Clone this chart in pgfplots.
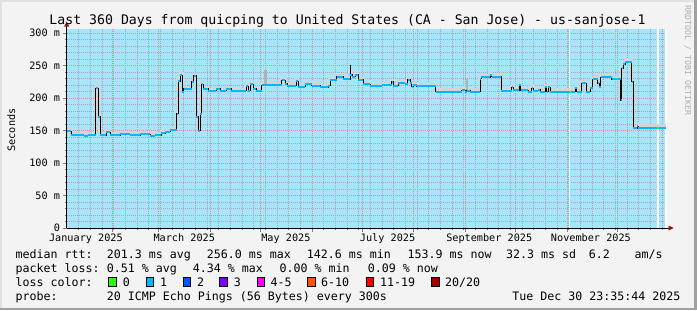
\documentclass[border=0pt]{standalone}
\usepackage{pgfplots}
\usepackage{pgfplotstable}
\pgfplotsset{compat=1.18}
\usepackage{fontspec}
\setmainfont{DejaVu Sans Mono}
\definecolor{bgc}{RGB}{243,243,243}
\definecolor{shadeA}{RGB}{225,225,225}
\definecolor{shadeB}{RGB}{160,160,160}
\definecolor{fillblue}{RGB}{168,228,250}
\definecolor{lossone}{RGB}{0,184,255}
\definecolor{mgrid}{RGB}{228,140,150}
\definecolor{ngrid}{RGB}{165,170,185}
\definecolor{arrowred}{RGB}{140,20,20}
\definecolor{wm}{RGB}{175,175,175}
\definecolor{smoke}{RGB}{212,212,212}
\definecolor{c0}{HTML}{26FF00}
\definecolor{c1}{HTML}{00B8FF}
\definecolor{c2}{HTML}{0059FF}
\definecolor{c3}{HTML}{7E00FF}
\definecolor{c4}{HTML}{FF00FF}
\definecolor{c6}{HTML}{FF5500}
\definecolor{c11}{HTML}{FF0000}
\definecolor{c20}{HTML}{A10000}
\newcommand\tfont{\fontsize{13.2bp}{15bp}\selectfont}
\newcommand\lfont{\fontsize{11.63bp}{14bp}\selectfont}
\newcommand\afont{\fontsize{10.2bp}{12bp}\selectfont}
\newcommand\wfont{\fontsize{8.3bp}{10bp}\selectfont}

\pgfplotstableread{
x y
3.98 149
6.56 143
14.36 142
16.76 143
21.38 215
22.94 171
24.14 143
27.56 147
29.96 143
35.96 144
41.96 143
47.96 144
53.96 142
56.96 143
60.56 146
62.96 148
65.96 151
69.98 176
70.94 226
71.96 235
73.34 210
74.06 214
78.98 225
80.06 234
81.56 171
82.94 150
83.96 176
84.98 221
85.76 214
88.76 211
93.56 214
95.96 211
99.56 214
102.56 211
111.56 218
112.76 211
113.96 221
115.76 214
117.56 211
120.98 220
132.98 227
134.96 222
136.16 219
141.56 226
142.76 217.5
146.96 221
150.98 219
155.96 217
160.76 219
161.96 228
165.98 233
169.76 230
173.96 236
175.16 233
176.96 236
178.76 228
181.76 221
185.96 218.5
192.98 220
198.98 225
199.76 219
202.94 222.6
206.96 221
208.58 228
209.96 223
210.98 217.5
211.76 220
213.98 218
225.38 210
240.98 212
242.96 210
243.98 211
245.96 210
251.96 230
252.56 232
257.96 235
258.98 233
264.56 211
270.98 217
271.94 213
272.96 212
275.54 220
276.38 212
280.94 210
282.98 215
283.76 211
286.76 213
287.96 210
290.96 216.5
291.98 210
292.76 216.5
293.96 210
308.96 215
309.98 210
312.98 222.6
315.56 210
317.96 215
319.58 229
320.96 230
322.58 222.6
323.54 216.5
324.38 232
330.98 229
336.38 197
336.98 245.6
337.94 252
338.96 255
340.94 256
342.98 225
343.94 153.3
346.34 157
346.94 154.3
363.5 154.3
}\median

\begin{document}
\begin{tikzpicture}[x=1bp,y=1bp]
\fill[bgc] (0,0) rectangle (697,310);
\fill[shadeA] (0,0) rectangle (2,310);
\fill[shadeA] (0,308) rectangle (697,310);
\fill[shadeB] (694,0) rectangle (697,310);
\fill[shadeB] (0,0) rectangle (697,2.5);

\begin{axis}[
  at={(66.7bp,82bp)}, anchor=south west,
  scale only axis, width=600bp, height=199bp,
  xmin=3.98, xmax=363.98, ymin=0, ymax=306.2,
  clip=false,
  axis background/.style={fill=fillblue},
  axis line style={draw=none},
  xtick pos=bottom, ytick pos=left,
  tick align=outside,
  major tick length=3.5bp, minor tick length=2bp,
  tick style={black!50},
  xtick={31,59,90,120,151,181,212,243,273,304,334},
  xticklabels={},
  minor xtick={11,18,...,361},
  ytick={0,50,100,150,200,250,300},
  yticklabels={0,50 m,100 m,150 m,200 m,250 m,300 m},
  minor ytick={10,20,30,40,60,70,80,90,110,120,130,140,160,170,180,190,210,220,230,240,260,270,280,290},
  grid=both,
  major grid style={mgrid, dash pattern=on 1bp off 1bp},
  minor grid style={ngrid, dash pattern=on 1bp off 1bp},
  extra x ticks={15.5,74.5,135.5,196.5,257.5,318.5},
  extra x tick labels={January 2025,March 2025,May 2025,July 2025,September 2025,November 2025},
  extra x tick style={grid=none, major tick length=0pt,
     xticklabel style={font=\afont, anchor=base, inner sep=0pt, yshift=-13.4bp}},
  yticklabel style={font=\afont, anchor=base east, inner sep=0pt, xshift=-3bp, yshift=-3.7bp},
]
% white gaps (no data)
\addplot[fill=white, draw=none] coordinates {(305.5,306.2) (306.1,306.2)} \closedcycle;
\addplot[fill=white, draw=none] coordinates {(358.0,306.2) (359.4,306.2)} \closedcycle;
\addplot[fill=white, draw=none] coordinates {(363.0,306.2) (363.98,306.2)} \closedcycle;

\addplot[const plot, draw=smoke, line width=2.5bp, yshift=2bp] table {\median};
\addplot[draw=smoke, line width=2bp] coordinates {(21.9,215) (21.9,226)};
\addplot[draw=black!30, line width=2.5bp] coordinates {(123.3,221) (123.3,243)};
\addplot[draw=black!30, line width=2bp] coordinates {(244.4,211) (244.4,230)};
\addplot[const plot, black, line width=0.9bp] table {\median};
\addplot[draw=black, line width=1.6bp] coordinates {(174.3,228) (174.3,251)};
\addplot[jump mark left, lossone, line width=2bp] table {\median};
\addplot[c0, line width=2bp] coordinates {(305.2,210) (306.3,210)};
\addplot[c0, line width=2bp] coordinates {(358.2,154.3) (359.1,154.3)};
\end{axis}

% axis lines and arrows
\draw[black, line width=1bp] (66.7,82) -- (670,82);
\fill[arrowred] (668.5,79.5) -- (673.5,82) -- (668.5,84.5) -- cycle;
\draw[black, line width=1bp] (66.7,82) -- (66.7,285);
\fill[arrowred] (64.2,283.5) -- (66.7,288.5) -- (69.2,283.5) -- cycle;

% title
\node[anchor=base, inner sep=0, font=\tfont] at (347.5,286) {Last 360 Days from quicping to United States (CA - San Jose) - us-sanjose-1};
% y label
\node[anchor=base, rotate=90, inner sep=0, font=\afont] at (15,180) {Seconds};
% watermark
\node[anchor=base west, rotate=-90, inner sep=0, font=\wfont, text=wm] at (685,305) {RRDTOOL / TOBI OETIKER};

% legend
\begin{scope}[every node/.style={anchor=base west, inner sep=0, font=\lfont}]
\node at (15.5,51.7) {median rtt:};
\node at (106.6,51.7) {201.3 ms avg};
\node at (206.6,51.7) {256.0 ms max};
\node at (306.6,51.7) {142.6 ms min};
\node at (407.4,51.7) {153.9 ms now};
\node at (506,51.7) {32.3 ms sd};
\node at (588.6,51.7) {6.2};
\node at (634.5,51.7) {am/s};

\node at (15.5,38) {packet loss:};
\node at (106.6,38) {0.51 \% avg};
\node at (192.6,38) {4.34 \% max};
\node at (279.3,38) {0.00 \% min};
\node at (367.6,38) {0.09 \% now};

\node at (15.5,24) {loss color:};
\node at (122.6,24) {0};
\node at (160,24) {1};
\node at (197,24) {2};
\node at (233.6,24) {3};
\node at (270.3,24) {4-5};
\node at (321,24) {6-10};
\node at (380,24) {11-19};
\node at (445,24) {20/20};

\node at (15.5,10) {probe:};
\node at (106.6,10) {20 ICMP Echo Pings (56 Bytes) every 300s};
\node[anchor=base east] at (680.5,10) {Tue Dec 30 23:35:44 2025};
\end{scope}
\foreach \bx/\cc in {108.3/c0,145.7/c1,182.7/c2,219.3/c3,256.7/c4,307.3/c6,365.7/c11,431/c20}{
  \filldraw[fill=\cc, draw=black, line width=1bp] (\bx+0.5,24) rectangle (\bx+8,33);
}
\pgfresetboundingbox
\path[use as bounding box] (0,0) rectangle (697,310);
\end{tikzpicture}
\end{document}
